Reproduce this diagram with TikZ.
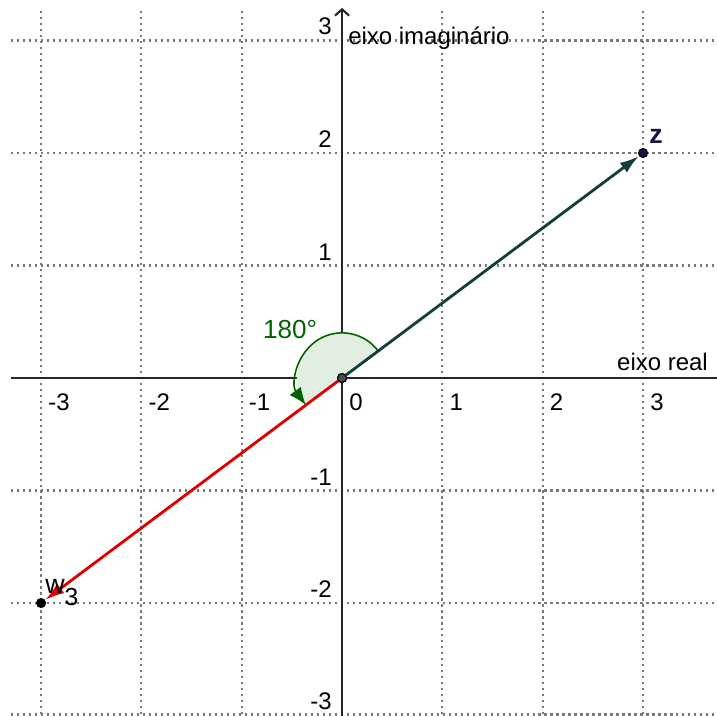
\documentclass[tikz,border=0pt]{standalone}
\usepackage{fontspec}
\setmainfont{Liberation Sans}
\usetikzlibrary{arrows.meta}
\definecolor{vecz}{RGB}{18,62,62}
\definecolor{vecw}{RGB}{222,0,0}
\definecolor{zdot}{RGB}{20,20,70}
\definecolor{angreen}{RGB}{0,100,0}
\definecolor{angfill}{RGB}{226,238,226}
\definecolor{gridc}{RGB}{120,120,120}

\begin{document}
\begin{tikzpicture}[x=1cm, y=1.1213cm,
  every node/.style={font=\fontsize{6.8}{8}\selectfont, inner sep=1pt},
  gridln/.style={gridc, line width=0.6pt, dash pattern=on 0.6pt off 1.1pt},
  axisln/.style={black!85, line width=0.6pt},
  dot/.style={circle, draw=black, line width=0.3pt, fill=black, inner sep=0pt,
              minimum size=0.09cm}]

  \useasboundingbox (-3.409,-3.0) rectangle (3.737,3.36);

  % grid
  \foreach \i in {-3,-2,-1,1,2,3} {
    \draw[gridln] (\i,-2.99) -- (\i,3.29);
    \draw[gridln] (-3.30,\i) -- (3.737,\i);
  }
  \draw[gridln] (-3.30,-2.985) -- (3.737,-2.985);

  % axes
  \coordinate (xl) at (-3.30,0);
  \coordinate (xr) at (3.737,0);
  \coordinate (yb) at (0,-3.0);
  \coordinate (yt) at (0,3.29);
  \draw[axisln] (xl) -- (xr);
  \draw[axisln, -{Straight Barb[length=1.8pt,width=4pt]}] (yb) -- (yt);

  \foreach \i in {-3,-2,-1,0,1,2,3} {
    \node[anchor=north west] (xt\i) at (\i+0.03,-0.1) {\i};
    \node[anchor=south east] (yt\i) at (-0.06,\i+0.01) {\i};
  }
  \node[anchor=base west] (xlab) at (2.70,0.071) {eixo real};
  \node[anchor=base west] (ylab) at (0.02,2.96) {eixo imaginário};

  % angle
  \fill[angfill] (0,0) -- ++(36.78:0.45cm) arc[start angle=36.78, end angle=216.78,
     radius=0.45cm] -- cycle;
  \draw[angreen, line width=0.45pt, -{Latex[length=5pt,width=4pt]}]
     (36.78:0.45cm) arc[start angle=36.78, end angle=216.78, radius=0.45cm];
  \node[anchor=base west, text=angreen, font=\fontsize{7.4}{8}\selectfont]
     (ang) at (-0.83,0.347) {180°};

  % points and vectors
  \node[dot, fill=black!70] (o) at (0,0) {};
  \node[dot, fill=zdot] (z) at (3,2) {};
  \node[dot] (w) at (-3,-2) {};
  \draw[vecz, line width=0.8pt, -{Latex[length=5.5pt,width=3.4pt]}] (o) -- (z);
  \draw[vecw, line width=0.8pt, -{Latex[length=5.5pt,width=3.4pt]}] (o) -- (w);
  \node[dot, fill=black!70] at (0,0) {};

  \node[anchor=base west, text=zdot, font=\fontsize{7.6}{8}\selectfont\bfseries]
     (zlab) at (3.02,2.08) {z};
  \node[anchor=base west, font=\fontsize{7.6}{8}\selectfont] (wlab) at (-3.0,-1.911)
     {w\raisebox{-3.6pt}{\fontsize{7}{8}\selectfont 3}};
\end{tikzpicture}
\end{document}
